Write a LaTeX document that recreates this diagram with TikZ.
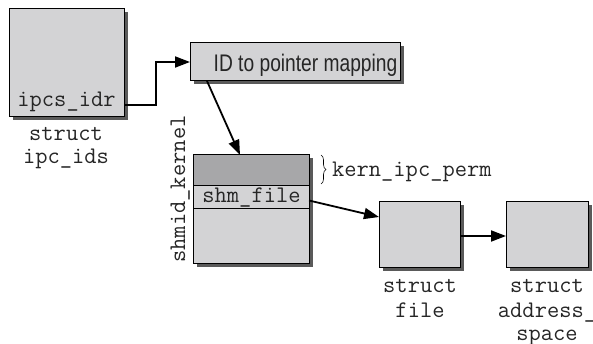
\documentclass[tikz,border=0pt]{standalone}
\usepackage{fontspec}
\newfontfamily\idfont[FakeStretch=0.8]{Liberation Sans}
\usetikzlibrary{arrows.meta,decorations.pathreplacing}
\definecolor{boxgray}{HTML}{D3D3D5}
\definecolor{bandgray}{HTML}{A7A7A9}
\definecolor{shadowgray}{HTML}{5A5A5A}
\definecolor{txt}{HTML}{262626}
\tikzset{
  shadowed/.style={preaction={fill=shadowgray, transform canvas={shift={(3.5pt,-3.5pt)}}}},
  box/.style={draw=black, line width=1pt, fill=boxgray, inner sep=0pt, outer sep=0pt, anchor=north west},
  band/.style={draw=black, line width=1pt, inner sep=0pt, outer sep=0pt, anchor=north west},
  mono/.style={font=\ttfamily\fontsize{23.8}{26}\selectfont, text=txt, inner sep=0pt},
  conn/.style={draw=black, line width=1.8pt, -{Triangle[length=15pt,width=11pt]}},
}
\begin{document}
\begin{tikzpicture}[x=1pt,y=-1pt]
\useasboundingbox (0,0) rectangle (593,344);
% struct ipc_ids
\node[box, shadowed, minimum width=115pt, minimum height=108pt] (ipc) at (9,9) {};
\node[mono, anchor=base] (idr) at (66.5,107) {ipcs\_idr};
\node[mono, anchor=base] (ipclbl1) at (66,141) {struct};
\node[mono, anchor=base] (ipclbl2) at (66,164) {ipc\_ids};
% ID mapping
\node[box, shadowed, minimum width=210pt, minimum height=38pt] (idbox) at (190,43) {};
\node[font=\idfont\fontsize{24}{28}\selectfont, text=txt, inner sep=0pt, anchor=base] (idtxt) at (305.5,72) {ID to pointer mapping};
% shmid_kernel
\node[box, shadowed, minimum width=116pt, minimum height=108pt] (shm) at (193,155) {};
\node[band, fill=bandgray, minimum width=116pt, minimum height=31pt] (perm) at (193,155) {};
\node[band, minimum width=116pt, minimum height=23pt] (shmf) at (193,186) {};
\node[mono, anchor=base] (shmftxt) at (251.5,203) {shm\_file};
\node[mono, anchor=base, rotate=90] (shmlbl) at (185,189) {shmid\_kernel};
\draw[line width=0.6pt, decorate, decoration={brace, amplitude=5pt}]
  ([xshift=12pt]perm.north east) -- ([xshift=12pt,yshift=2pt]perm.south east);
\node[mono, anchor=base west] (permlbl) at (332,177) {kern\_ipc\_perm};
% struct file
\node[box, shadowed, minimum width=81pt, minimum height=65pt] (file) at (379,202) {};
\node[mono, anchor=base] (filelbl1) at (420,292) {struct};
\node[mono, anchor=base] (filelbl2) at (420,317) {file};
% struct address_space
\node[box, shadowed, minimum width=82pt, minimum height=65pt] (addr) at (506,202) {};
\node[mono, anchor=base] (addrlbl1) at (547,292) {struct};
\node[mono, anchor=base] (addrlbl2) at (547,317) {address\_};
\node[mono, anchor=base] (addrlbl3) at (547,340) {space};
% connectors
\draw[conn] ([yshift=12pt]ipc.south east) -- ++(32,0) |- (idbox.west);
\draw[conn] ([xshift=17pt]idbox.south west) -- ([xshift=47pt]shm.north west);
\draw[conn] ([yshift=-3pt]shmf.east) -- ([yshift=-15pt]file.north west);
\draw[conn] ([yshift=-1.5pt]file.east) -- ([yshift=-1.5pt]addr.west);
\end{tikzpicture}
\end{document}
